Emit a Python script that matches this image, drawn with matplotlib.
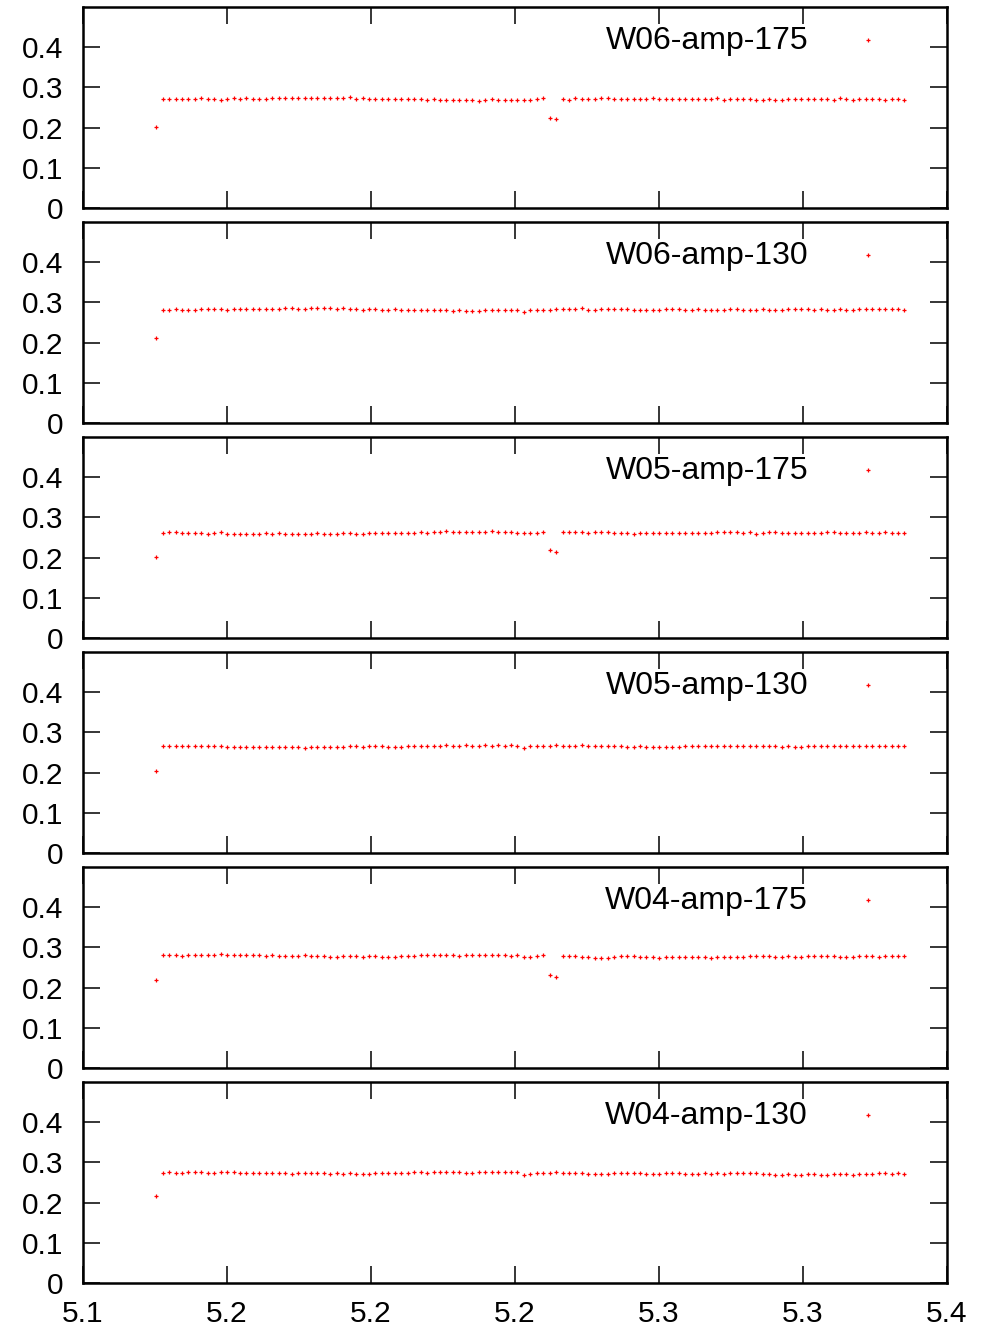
import matplotlib
matplotlib.use('Agg')
import matplotlib.pyplot as plt

plt.rcParams['font.family'] = ['Liberation Sans', 'DejaVu Sans']

# frequency samples
x = [5.12540, 5.12764, 5.12988, 5.13212, 5.13436, 5.13660, 5.13884, 5.14108, 5.14332, 5.14556,
     5.14780, 5.15004, 5.15228, 5.15452, 5.15676, 5.15900, 5.16124, 5.16348, 5.16572, 5.16796,
     5.17020, 5.17244, 5.17468, 5.17692, 5.17916, 5.18140, 5.18364, 5.18588, 5.18812, 5.19036,
     5.19260, 5.19484, 5.19708, 5.19932, 5.20156, 5.20380, 5.20604, 5.20828, 5.21052, 5.21276,
     5.21500, 5.21724, 5.21948, 5.22172, 5.22396, 5.22620, 5.22844, 5.23068, 5.23292, 5.23516,
     5.23740, 5.23964, 5.24188, 5.24412, 5.24636, 5.24860, 5.25084, 5.25308, 5.25532, 5.25756,
     5.25980, 5.26204, 5.26428, 5.26652, 5.26876, 5.27100, 5.27324, 5.27548, 5.27772, 5.27996,
     5.28220, 5.28444, 5.28668, 5.28892, 5.29116, 5.29340, 5.29564, 5.29788, 5.30012, 5.30236,
     5.30460, 5.30684, 5.30908, 5.31132, 5.31356, 5.31580, 5.31804, 5.32028, 5.32252, 5.32476,
     5.32700, 5.32924, 5.33148, 5.33372, 5.33596, 5.33820, 5.34044, 5.34268, 5.34492, 5.34716,
     5.34940, 5.35164, 5.35388, 5.35612, 5.35836, 5.36060, 5.36284, 5.36508, 5.36732, 5.36956,
     5.37180, 5.37404, 5.37628, 5.37852, 5.38076, 5.38300, 5.38524]

panel_labels = ['W06-amp-175', 'W06-amp-130', 'W05-amp-175',
                'W05-amp-130', 'W04-amp-175', 'W04-amp-130']

w06_175 = [0.202,
    0.271, 0.271, 0.2718, 0.271, 0.271, 0.2702, 0.2726, 0.2718, 0.2702, 0.2694,
    0.2718, 0.2726, 0.2702, 0.2742, 0.2718, 0.271, 0.2718, 0.2726, 0.2726, 0.2734,
    0.2726, 0.2734, 0.2726, 0.2734, 0.2742, 0.2742, 0.2742, 0.2726, 0.2742, 0.275,
    0.271, 0.2726, 0.271, 0.271, 0.2718, 0.271, 0.2702, 0.271, 0.2702, 0.2702,
    0.2718, 0.2694, 0.2718, 0.2694, 0.2694, 0.2686, 0.2678, 0.2678, 0.2678, 0.267,
    0.2686, 0.2702, 0.2694, 0.2694, 0.2694, 0.2686, 0.2678, 0.2678, 0.271, 0.2734,
    0.225, 0.221,
    0.271, 0.2694, 0.2742, 0.271, 0.271, 0.271, 0.2726, 0.2734, 0.2718, 0.271,
    0.2702, 0.2718, 0.271, 0.271, 0.2726, 0.2702, 0.271, 0.2718, 0.271, 0.271,
    0.2702, 0.2718, 0.2702, 0.271, 0.2726, 0.2694, 0.2718, 0.271, 0.271, 0.2718,
    0.2694, 0.2694, 0.2702, 0.2694, 0.2694, 0.2718, 0.271, 0.2702, 0.2718, 0.271,
    0.2702, 0.271, 0.2694, 0.2726, 0.2718, 0.2694, 0.271, 0.271, 0.2702, 0.271,
    0.2694, 0.2702, 0.271, 0.2686]

w06_130 = [0.212,
    0.2822, 0.2822, 0.2838, 0.2822, 0.2814, 0.2822, 0.283, 0.283, 0.283, 0.2838,
    0.2822, 0.283, 0.283, 0.283, 0.2838, 0.2838, 0.283, 0.2838, 0.2838, 0.2862,
    0.2854, 0.2846, 0.2846, 0.2854, 0.2854, 0.2854, 0.2854, 0.2838, 0.2862, 0.2846,
    0.2846, 0.2822, 0.2838, 0.2846, 0.2822, 0.2822, 0.2838, 0.2822, 0.2822, 0.2822,
    0.2822, 0.2822, 0.2814, 0.2822, 0.2806, 0.2798, 0.2806, 0.2798, 0.2798, 0.2798,
    0.2814, 0.2814, 0.2814, 0.2814, 0.2814, 0.2806, 0.2758, 0.2814, 0.2814, 0.2822,
    0.2814, 0.2846, 0.2838, 0.2838, 0.2838, 0.2854, 0.2822, 0.2822, 0.283, 0.2838,
    0.2838, 0.283, 0.283, 0.2822, 0.2822, 0.2822, 0.2822, 0.2814, 0.283, 0.283,
    0.283, 0.2822, 0.2822, 0.283, 0.2814, 0.2814, 0.2806, 0.2822, 0.283, 0.283,
    0.2822, 0.2822, 0.2822, 0.283, 0.2806, 0.2822, 0.2814, 0.2838, 0.283, 0.283,
    0.283, 0.2822, 0.2838, 0.2822, 0.2822, 0.283, 0.2822, 0.2806, 0.283, 0.283,
    0.283, 0.283, 0.283, 0.283, 0.283, 0.2806]

w05_175 = [0.202,
    0.261, 0.2634, 0.2634, 0.261, 0.261, 0.261, 0.261, 0.2594, 0.2618, 0.2634,
    0.2594, 0.2594, 0.2594, 0.2594, 0.2594, 0.2586, 0.2602, 0.2594, 0.2602, 0.2594,
    0.2586, 0.2586, 0.2594, 0.2594, 0.2602, 0.2594, 0.2594, 0.2578, 0.261, 0.261,
    0.2586, 0.2594, 0.261, 0.2602, 0.261, 0.2602, 0.261, 0.261, 0.261, 0.2618,
    0.2626, 0.2618, 0.2642, 0.2642, 0.265, 0.2626, 0.2634, 0.2634, 0.2626, 0.2642,
    0.2634, 0.265, 0.2642, 0.2626, 0.2634, 0.2618, 0.2618, 0.2602, 0.261, 0.2626,
    0.219, 0.214,
    0.2626, 0.2626, 0.2642, 0.2634, 0.2618, 0.2626, 0.2626, 0.2626, 0.261, 0.261,
    0.261, 0.2586, 0.2618, 0.261, 0.2602, 0.2602, 0.2602, 0.261, 0.261, 0.2602,
    0.261, 0.2618, 0.261, 0.2602, 0.2626, 0.2626, 0.2634, 0.2626, 0.261, 0.2634,
    0.2594, 0.2618, 0.2634, 0.2626, 0.2618, 0.261, 0.261, 0.261, 0.261, 0.2602,
    0.2618, 0.2626, 0.2626, 0.2618, 0.2618, 0.2602, 0.2618, 0.2626, 0.2618, 0.2618,
    0.2626, 0.2618, 0.261, 0.261]

w05_130 = [0.2045,
    0.2666, 0.2666, 0.265, 0.265, 0.2674, 0.265, 0.265, 0.265, 0.265, 0.2658,
    0.2642, 0.2634, 0.2634, 0.2634, 0.2626, 0.2634, 0.2642, 0.2626, 0.2626, 0.2634,
    0.2626, 0.2642, 0.2618, 0.2626, 0.2642, 0.2642, 0.2642, 0.2626, 0.2642, 0.265,
    0.265, 0.2634, 0.265, 0.265, 0.2658, 0.2642, 0.2642, 0.2642, 0.2674, 0.2658,
    0.2658, 0.2658, 0.265, 0.2674, 0.269, 0.2666, 0.2674, 0.2682, 0.2666, 0.2674,
    0.269, 0.2674, 0.2682, 0.2674, 0.2682, 0.2674, 0.261, 0.2658, 0.2666, 0.2666,
    0.2658, 0.2682, 0.2658, 0.2658, 0.2674, 0.2682, 0.2666, 0.2666, 0.2666, 0.265,
    0.2658, 0.2658, 0.2634, 0.2634, 0.265, 0.2642, 0.2642, 0.2642, 0.2642, 0.2642,
    0.2634, 0.265, 0.265, 0.265, 0.2674, 0.2666, 0.2666, 0.2666, 0.2666, 0.2658,
    0.2658, 0.2658, 0.2658, 0.2658, 0.265, 0.2666, 0.2634, 0.2674, 0.2642, 0.2634,
    0.2658, 0.2658, 0.2658, 0.2658, 0.2666, 0.2674, 0.2658, 0.2658, 0.265, 0.265,
    0.2666, 0.2666, 0.2666, 0.2666, 0.2666, 0.2666]

w04_175 = [0.2186,
    0.2808, 0.2808, 0.28, 0.2792, 0.2816, 0.2808, 0.2808, 0.2808, 0.2816, 0.2824,
    0.28, 0.28, 0.2808, 0.2808, 0.28, 0.28, 0.2776, 0.2808, 0.2792, 0.2792,
    0.2784, 0.2784, 0.28, 0.2792, 0.2784, 0.2776, 0.2768, 0.2768, 0.2776, 0.2776,
    0.2776, 0.2752, 0.2776, 0.2776, 0.2768, 0.2768, 0.276, 0.2776, 0.2792, 0.2784,
    0.2808, 0.2808, 0.2808, 0.2816, 0.28, 0.28, 0.2792, 0.2808, 0.28, 0.28,
    0.2808, 0.28, 0.28, 0.28, 0.2792, 0.28, 0.2768, 0.2768, 0.2784, 0.2808,
    0.231, 0.226,
    0.2776, 0.2776, 0.2776, 0.2768, 0.276, 0.2744, 0.2744, 0.2744, 0.276, 0.2784,
    0.2776, 0.2776, 0.2768, 0.2768, 0.2752, 0.2744, 0.276, 0.276, 0.276, 0.276,
    0.2768, 0.2752, 0.276, 0.2728, 0.276, 0.276, 0.2768, 0.2768, 0.2768, 0.2784,
    0.2776, 0.2776, 0.2776, 0.2768, 0.2768, 0.2784, 0.2768, 0.2768, 0.2784, 0.2776,
    0.2776, 0.2776, 0.2776, 0.2768, 0.2768, 0.2768, 0.2784, 0.2776, 0.2776, 0.2768,
    0.2784, 0.2784, 0.2784, 0.2784]

w04_130 = [0.2153,
    0.2748, 0.2756, 0.2748, 0.2732, 0.2756, 0.2756, 0.2764, 0.2748, 0.274, 0.2756,
    0.2756, 0.2756, 0.2732, 0.274, 0.2748, 0.2724, 0.2724, 0.2732, 0.2732, 0.2724,
    0.2716, 0.274, 0.2748, 0.274, 0.2732, 0.2732, 0.2716, 0.2724, 0.2716, 0.2732,
    0.2708, 0.2708, 0.2716, 0.2732, 0.2748, 0.2724, 0.2732, 0.2732, 0.274, 0.2756,
    0.2764, 0.2748, 0.2764, 0.2772, 0.2764, 0.2764, 0.2756, 0.274, 0.2732, 0.2756,
    0.2764, 0.2756, 0.2756, 0.2756, 0.2764, 0.2756, 0.2684, 0.2708, 0.2732, 0.2732,
    0.2732, 0.2764, 0.274, 0.2732, 0.2732, 0.274, 0.2708, 0.27, 0.27, 0.2716,
    0.2724, 0.274, 0.2732, 0.2724, 0.2724, 0.2708, 0.2708, 0.2716, 0.2724, 0.2724,
    0.2732, 0.2716, 0.2716, 0.2716, 0.2724, 0.2708, 0.2724, 0.2716, 0.2732, 0.2724,
    0.2732, 0.2724, 0.2724, 0.2708, 0.2708, 0.2692, 0.2692, 0.27, 0.2684, 0.2692,
    0.2708, 0.27, 0.2692, 0.2692, 0.27, 0.27, 0.27, 0.2692, 0.2716, 0.2716,
    0.2708, 0.2732, 0.2724, 0.2716, 0.2724, 0.2708]

xticks = [5.10, 5.15, 5.20, 5.25, 5.30, 5.35, 5.40]
xtick_labels = ['5.1', '5.2', '5.2', '5.2', '5.3', '5.3', '5.4']
yticks = [0, 0.1, 0.2, 0.3, 0.4]
ytick_labels = ['0', '0.1', '0.2', '0.3', '0.4']

series = [w06_175, w06_130, w05_175, w05_130, w04_175, w04_130]
for s in series:
    assert len(s) == len(x), len(s)

W, H = 983, 1332
fig = plt.figure(figsize=(W / 100, H / 100), dpi=100)
tops = [7, 222, 437, 652, 867, 1082]
ph = 201
left, pw = 83, 864

for i, (lab, y) in enumerate(zip(panel_labels, series)):
    top = tops[i]
    ax = fig.add_axes([left / W, 1 - (top + ph) / H, pw / W, ph / H])
    ax.plot(x, y, linestyle='none', marker='+', ms=3.0, mew=0.9, color='#ff0000')
    ax.set_xlim(5.1, 5.4)
    ax.set_ylim(0, 0.5)
    ax.set_xticks(xticks)
    ax.set_yticks(yticks)
    ax.set_yticklabels(ytick_labels)
    if i == len(series) - 1:
        ax.set_xticklabels(xtick_labels)
    else:
        ax.set_xticklabels([])
    ax.tick_params(axis='both', which='both', direction='in', top=True, right=True,
                   length=12, width=1.1, labelsize=21.5, color='black')
    ax.tick_params(axis='y', pad=14)
    ax.tick_params(axis='x', pad=12)
    for sp in ax.spines.values():
        sp.set_linewidth(1.8)
    # key entry
    ax.text((808 - left) / pw, 0.789, lab, transform=ax.transAxes,
            ha='right', va='baseline', fontsize=23)
    ax.plot([(868 - left) / pw], [1 - 33 / ph], transform=ax.transAxes,
            linestyle='none', marker='+', ms=3.0, mew=0.9, color='#ff0000')

fig.savefig('out.png', dpi=100)
